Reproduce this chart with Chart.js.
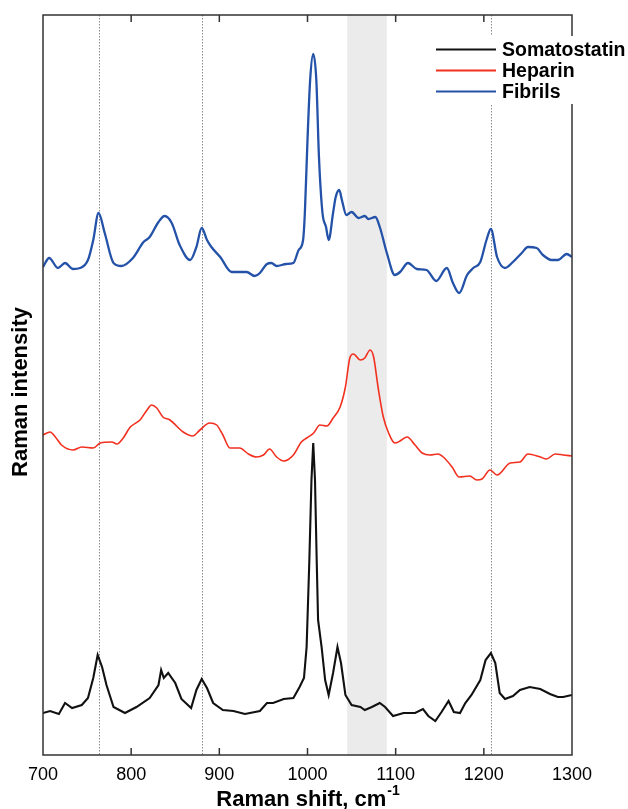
<!DOCTYPE html>
<html>
<head>
<meta charset="utf-8">
<script src="https://cdn.jsdelivr.net/npm/chart.js@4.4.0/dist/chart.umd.min.js"></script>
<style>
  html, body { margin: 0; padding: 0; background: #fff; }
  #wrap { width: 628px; height: 809px; }
</style>
</head>
<body>
<div id="wrap"><canvas id="ramanChart" width="628" height="809"></canvas></div>
<script>
// axis ticks, reference lines and shaded region (Raman shift, cm-1)
const xTicks = [700, 800, 900, 1000, 1100, 1200, 1300];
const markerLines = [763, 880, 1208];
const shadedBand = [1045, 1090];

const seriesNames = ['Somatostatin', 'Heparin', 'Fibrils'];
const seriesColors = ['#111111', '#f2301f', '#2452a8'];

// spectra, intensity in arbitrary units (stacked with offsets as in the figure)
const somatostatinShift = [700, 708, 718, 725, 733, 744, 751, 757, 762, 767, 772, 780, 793, 806, 821, 831, 834, 837, 842, 850,
  857, 868, 874, 880, 886, 893, 904, 916, 929, 946, 954, 961, 973, 984, 991, 996, 999, 1002, 1004.5, 1006.5,
  1008.5, 1010.5, 1012, 1016, 1020, 1024, 1029, 1034, 1038, 1043, 1050, 1060, 1065, 1073, 1082, 1088, 1097, 1109, 1122, 1131,
  1137, 1145, 1152, 1160, 1166, 1173, 1179, 1186, 1196, 1202, 1208, 1213, 1218, 1224, 1233, 1241, 1252, 1264, 1275, 1284,
  1290, 1300];
const somatostatinIntensity = [42, 44, 41, 52, 47, 50, 57, 77, 100, 88, 70, 48, 42, 48, 57, 70, 85, 77, 82, 72,
  56, 47, 65, 76, 67, 52, 45, 44, 41, 44, 52, 52, 56, 57, 68, 77, 108, 192, 275, 312,
  275, 192, 135, 108, 75, 60, 82, 108, 92, 60, 50, 48, 45, 48, 52, 48, 39, 42, 42, 46,
  39, 34, 43, 54, 43, 42, 52, 60, 75, 95, 102, 92, 62, 56, 59, 65, 68, 66, 61, 58,
  58, 60];

const heparinShift = [700, 708, 714, 721, 734, 744, 757, 765, 778, 784, 791, 799, 810, 818, 823, 829, 836, 844, 859, 870,
  878, 889, 897, 904, 912, 923, 933, 942, 950, 957, 965, 973, 984, 993, 999, 1007, 1014, 1022, 1029, 1037,
  1043, 1048, 1052, 1060, 1065, 1071, 1075, 1080, 1086, 1092, 1099, 1105, 1113, 1122, 1130, 1139, 1148, 1154, 1164, 1172,
  1184, 1192, 1198, 1207, 1215, 1230, 1241, 1250, 1264, 1271, 1281, 1290, 1300];
const heparinIntensity = [320, 323, 318, 310, 305, 308, 307, 312, 313, 311, 317, 328, 335, 345, 350, 347, 338, 335, 323, 319,
  325, 332, 330, 320, 307, 307, 301, 298, 300, 306, 298, 294, 300, 313, 317, 322, 330, 329, 337, 348,
  368, 397, 401, 395, 397, 405, 398, 368, 338, 322, 312, 314, 318, 310, 302, 300, 301, 298, 288, 278,
  279, 275, 276, 285, 280, 292, 293, 301, 298, 296, 301, 300, 299];

const fibrilsShift = [700, 707, 717, 725, 734, 742, 751, 757, 763, 770, 780, 789, 802, 814, 821, 831, 838, 846, 855, 867,
  874, 880, 886, 891, 901, 914, 931, 940, 946, 954, 959, 965, 976, 984, 990, 995, 997, 1000, 1003, 1006.5,
  1010, 1013, 1017, 1021, 1024, 1029, 1032, 1036, 1039, 1044, 1050, 1058, 1065, 1069, 1077, 1082, 1090, 1099, 1105, 1114,
  1124, 1135, 1146, 1158, 1165, 1172, 1181, 1188, 1196, 1203, 1208, 1215, 1224, 1233, 1243, 1250, 1260, 1267, 1277, 1284,
  1294, 1300];
const fibrilsIntensity = [488, 497, 487, 492, 486, 487, 495, 515, 542, 522, 492, 489, 497, 513, 518, 533, 539, 532, 510, 495,
  508, 527, 515, 508, 498, 483, 483, 479, 482, 491, 492, 489, 491, 492, 505, 515, 542, 615, 675, 701,
  675, 598, 542, 528, 515, 542, 558, 565, 555, 540, 543, 537, 539, 536, 538, 528, 502, 480, 483, 492,
  486, 485, 474, 487, 472, 462, 480, 487, 493, 515, 526, 498, 487, 493, 502, 508, 507, 500, 495, 495,
  501, 498];

const FONT = "'Liberation Sans', Arial, Helvetica, sans-serif";

function toPoints(xs, ys) {
  return xs.map((v, i) => ({ x: v, y: ys[i] }));
}

const overlays = {
  id: 'overlays',
  beforeDatasetsDraw(chart) {
    const { ctx, chartArea: a, scales: { x } } = chart;
    ctx.save();
    // grey band
    const b0 = x.getPixelForValue(shadedBand[0]);
    const b1 = x.getPixelForValue(shadedBand[1]);
    ctx.fillStyle = '#ebebeb';
    ctx.fillRect(b0, a.top, b1 - b0, a.bottom - a.top);
    // dotted marker lines
    ctx.strokeStyle = '#8a8a8a';
    ctx.lineWidth = 1;
    ctx.setLineDash([1.5, 1.5]);
    markerLines.forEach(v => {
      const px = Math.round(x.getPixelForValue(v)) + 0.5;
      ctx.beginPath();
      ctx.moveTo(px, a.top);
      ctx.lineTo(px, a.bottom);
      ctx.stroke();
    });
    ctx.restore();
  },
  afterDraw(chart) {
    const { ctx, chartArea: a, scales: { x } } = chart;
    ctx.save();
    // frame + inner ticks
    ctx.strokeStyle = '#333333';
    ctx.lineWidth = 1.5;
    ctx.strokeRect(a.left, a.top, a.right - a.left, a.bottom - a.top);
    ctx.beginPath();
    xTicks.slice(1, -1).forEach(v => {
      const px = x.getPixelForValue(v);
      ctx.moveTo(px, a.top);
      ctx.lineTo(px, a.top + 7);
      ctx.moveTo(px, a.bottom);
      ctx.lineTo(px, a.bottom - 7);
    });
    ctx.stroke();

    // legend, white box over the frame
    ctx.fillStyle = '#ffffff';
    ctx.fillRect(431, 36, 197, 68);
    ctx.font = 'bold 19.5px ' + FONT;
    ctx.textBaseline = 'middle';
    ctx.textAlign = 'left';
    seriesNames.forEach((name, i) => {
      const y = 49.5 + i * 21;
      ctx.strokeStyle = seriesColors[i];
      ctx.lineWidth = 2;
      ctx.beginPath();
      ctx.moveTo(436, y);
      ctx.lineTo(496, y);
      ctx.stroke();
      ctx.fillStyle = '#000';
      ctx.fillText(name, 502, y + 1);
    });

    // x axis title with superscript
    const main = 'Raman shift, cm';
    const sup = '-1';
    ctx.font = 'bold 22px ' + FONT;
    const wMain = ctx.measureText(main).width;
    ctx.font = 'bold 14px ' + FONT;
    const wSup = ctx.measureText(sup).width;
    const cx = (a.left + a.right) / 2;
    const startX = cx - (wMain + wSup) / 2;
    ctx.fillStyle = '#000';
    ctx.textBaseline = 'alphabetic';
    ctx.font = 'bold 22px ' + FONT;
    ctx.fillText(main, startX, 806);
    ctx.font = 'bold 14px ' + FONT;
    ctx.fillText(sup, startX + wMain + 1, 795);

    // y axis title
    ctx.translate(21, 392);
    ctx.rotate(-Math.PI / 2);
    ctx.font = 'bold 22px ' + FONT;
    ctx.textAlign = 'center';
    ctx.textBaseline = 'middle';
    ctx.fillText('Raman intensity', 0, 0);
    ctx.restore();
  }
};

new Chart(document.getElementById('ramanChart'), {
  type: 'line',
  data: {
    datasets: [
      {
        label: seriesNames[1],
        data: toPoints(heparinShift, heparinIntensity),
        borderColor: seriesColors[1],
        borderWidth: 1.6,
        cubicInterpolationMode: 'monotone'
      },
      {
        label: seriesNames[2],
        data: toPoints(fibrilsShift, fibrilsIntensity),
        borderColor: seriesColors[2],
        borderWidth: 2.3,
        cubicInterpolationMode: 'monotone'
      },
      {
        label: seriesNames[0],
        data: toPoints(somatostatinShift, somatostatinIntensity),
        borderColor: seriesColors[0],
        borderWidth: 2.1,
        tension: 0
      }
    ]
  },
  options: {
    responsive: false,
    animation: false,
    devicePixelRatio: 1,
    elements: { point: { radius: 0 } },
    layout: { padding: { left: 43, right: 56, top: 15, bottom: 0 } },
    plugins: {
      legend: { display: false },
      tooltip: { enabled: false }
    },
    scales: {
      x: {
        type: 'linear',
        min: 700,
        max: 1300,
        afterBuildTicks: s => { s.ticks = xTicks.map(v => ({ value: v })); },
        afterFit: s => { s.height = 54; },
        grid: { display: false, drawTicks: false },
        border: { display: false },
        ticks: {
          font: { family: FONT, size: 18 },
          color: '#000',
          padding: 9,
          callback: v => String(v)
        }
      },
      y: {
        display: false,
        min: 0,
        max: 740
      }
    }
  },
  plugins: [overlays]
});
</script>
</body>
</html>
